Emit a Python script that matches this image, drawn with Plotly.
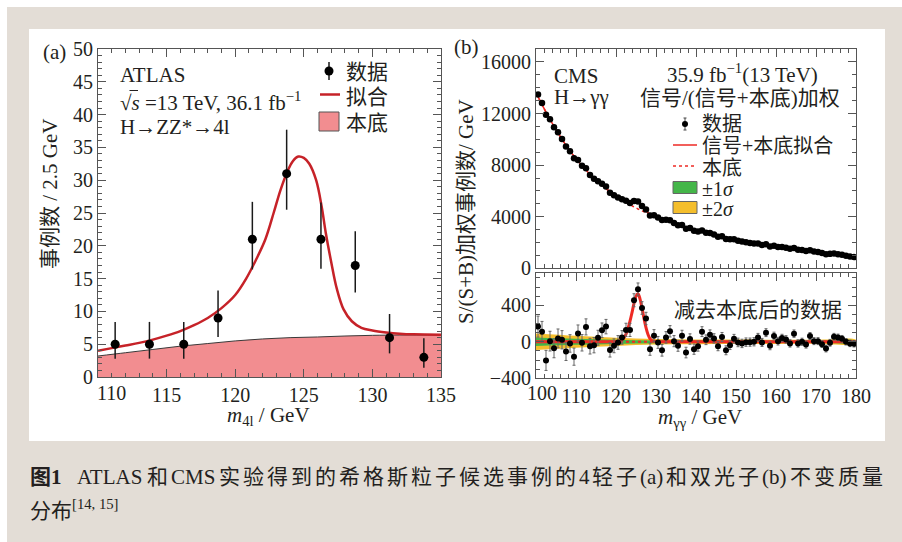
import plotly.graph_objects as go

# ---------------- data: panel (a) ATLAS H->ZZ*->4l ----------------
mass_a = [111.25, 113.75, 116.25, 118.75, 121.25, 123.75, 126.25, 128.75, 131.25, 133.75]
counts_a = [5, 5, 5, 9, 21, 31, 21, 17, 6, 3]
err_up_a = [3.4, 3.4, 3.4, 4.2, 5.7, 6.7, 5.6, 5.2, 3.6, 2.9]
err_dn_a = [2.2, 2.2, 2.2, 2.9, 4.6, 5.5, 4.5, 4.1, 2.4, 1.6]

fit_x_a = [110.0, 111.0, 112.0, 113.0, 114.0, 115.0, 116.0, 117.0, 118.0, 119.0, 120.0,
           120.8, 121.5, 122.2, 122.8, 123.3, 123.8, 124.2, 124.6, 125.0, 125.4, 125.9,
           126.3, 126.6, 127.0, 127.4, 127.9, 128.5, 129.2, 130.0, 131.0, 132.0, 133.0, 135.0]
fit_y_a = [4.0, 4.4, 4.8, 5.2, 5.7, 6.3, 7.0, 7.9, 9.0, 10.5, 12.5,
           15.0, 17.8, 21.0, 25.0, 28.5, 31.3, 32.9, 33.6, 33.4, 32.5, 30.0,
           26.0, 22.0, 17.5, 13.5, 10.3, 8.5, 7.5, 7.1, 6.8, 6.6, 6.5, 6.45]

bkg_x_a = [110, 112, 114, 116, 118, 120, 122, 124, 126, 128, 130, 132, 135]
bkg_y_a = [3.2, 3.7, 4.2, 4.7, 5.1, 5.5, 5.8, 6.0, 6.1, 6.25, 6.35, 6.4, 6.4]

xticks_a = [115, 120, 125, 130, 135]
yticks_a = [0, 5, 10, 15, 20, 25, 30, 35, 40, 45, 50]

# ---------------- data: panel (b) CMS H->gamma gamma ----------------
mass_b = [100.5, 101.5, 102.5, 103.5, 104.5, 105.5, 106.5, 107.5, 108.5, 109.5,
          110.5, 111.5, 112.5, 113.5, 114.5, 115.5, 116.5, 117.5, 118.5, 119.5,
          120.5, 121.5, 122.5, 123.5, 124.5, 125.5, 126.5, 127.5, 128.5, 129.5,
          130.5, 131.5, 132.5, 133.5, 134.5, 135.5, 136.5, 137.5, 138.5, 139.5,
          140.5, 141.5, 142.5, 143.5, 144.5, 145.5, 146.5, 147.5, 148.5, 149.5,
          150.5, 151.5, 152.5, 153.5, 154.5, 155.5, 156.5, 157.5, 158.5, 159.5,
          160.5, 161.5, 162.5, 163.5, 164.5, 165.5, 166.5, 167.5, 168.5, 169.5,
          170.5, 171.5, 172.5, 173.5, 174.5, 175.5, 176.5, 177.5, 178.5, 179.5]
weighted_b = [13470, 12810, 11900, 11560, 10930, 10540, 10020, 9440, 9080, 8540,
              8390, 7940, 7760, 7230, 6940, 6740, 6560, 6350, 5850, 5670,
              5490, 5350, 5240, 5060, 5215, 5174, 4820, 4565, 4100, 4117,
              3943, 3737, 3768, 3725, 3507, 3346, 3357, 3072, 3120, 2919,
              2862, 2931, 2762, 2738, 2617, 2452, 2482, 2267, 2253, 2253,
              2143, 2072, 2026, 1966, 1920, 1918, 1813, 1870, 1686, 1753,
              1657, 1651, 1596, 1512, 1579, 1432, 1410, 1340, 1393, 1297,
              1257, 1184, 1096, 1119, 1146, 1098, 1043, 970, 912, 868]
resid_b = [166, 111, -204, 7, -70, 37, 22, -107, -18, -163,
           92, -11, 163, -48, -37, 44, 126, 166, -89, -44,
           -7, 48, 130, 130, 455, 574, 370, 255, -81, 67,
           -7, -93, 48, 115, 7, -44, 67, -118, 30, -81,
           -48, 111, 22, 78, 37, -48, 52, -93, -37, 33,
           -7, -18, -4, -4, 0, 48, -7, 100, -44, 63,
           7, 41, 26, -18, 89, -18, 0, -30, 63, 7,
           7, -26, -74, -11, 56, 48, 33, 0, -18, -22]
resid_err_b = [115, 112, 110, 108, 105, 103, 100, 98, 96, 94,
               92, 90, 88, 86, 84, 82, 80, 79, 78, 76,
               75, 74, 73, 72, 71, 70, 69, 68, 67, 66,
               65, 64, 63, 62, 61, 60, 59, 58, 57, 56,
               55, 54, 53, 52, 51, 50, 50, 49, 48, 48,
               47, 46, 46, 45, 45, 44, 44, 43, 43, 42,
               42, 41, 41, 40, 40, 40, 39, 39, 38, 38,
               38, 37, 37, 37, 36, 36, 36, 35, 35, 35]

curve_x_b = [100, 102, 104, 106, 108, 110, 112, 114, 116, 118, 120, 121, 122, 122.5, 123,
             123.5, 124, 124.5, 125, 125.5, 126, 126.5, 127, 127.5, 128, 128.5, 129, 130,
             132, 135, 140, 145, 150, 155, 160, 165, 170, 175, 180]
bkg_curve_b = [13600, 12400, 11270, 10250, 9320, 8500, 7770, 7130, 6560, 6060, 5600, 5390,
               5200, 5110, 5020, 4930, 4840, 4760, 4680, 4600, 4520, 4450, 4380, 4310, 4240,
               4180, 4120, 4010, 3770, 3450, 2950, 2530, 2180, 1910, 1670, 1460, 1270, 1070, 870]
sig_curve_b = [0, 0, 0, 0, 0, 0, 0, 0, 0, 0, 2, 10, 45, 85, 145,
               225, 320, 420, 500, 525, 470, 370, 255, 155, 80, 35, 12, 2,
               0, 0, 0, 0, 0, 0, 0, 0, 0, 0, 0]
bkg_sub_b = [0 for _ in curve_x_b]

band_x_b = [100, 110, 120, 130, 140, 150, 160, 170, 180]
band1_b = [46, 33, 23, 15, 13, 12, 11, 11, 10]
band2_b = [90, 65, 45, 30, 26, 24, 23, 22, 21]

xticks_b = [110, 120, 130, 140, 150, 160, 170, 180]
yticks_b_top = [0, 4000, 8000, 12000, 16000]
yticks_b_bot = [-400, 0, 400]

# caption pieces (text, width in em used for justified placement)
caption_tokens = [("<b>图1</b>", 1.5), ("ATLAS", 3.222), ("和", 1), ("CMS", 2.112),
                  ("实", 1), ("验", 1), ("得", 1), ("到", 1), ("的", 1), ("希", 1), ("格", 1),
                  ("斯", 1), ("粒", 1), ("子", 1), ("候", 1), ("选", 1), ("事", 1), ("例", 1),
                  ("的", 1), ("4", 0.5), ("轻", 1), ("子", 1), ("(a)", 1.11), ("和", 1),
                  ("双", 1), ("光", 1), ("子", 1), ("(b)", 1.166), ("不", 1), ("变", 1),
                  ("质", 1), ("量", 1)]
caption_line2 = "分布<sup>[14, 15]</sup>"

# ---------------- style ----------------
W, H = 902, 542
SERIF = "Liberation Serif, Noto Sans CJK SC, serif"
TXT = "#231f20"
AX = "#555555"
RED_A = "#c62228"
RED_B = "#ee2a24"
PINK = "#f28d90"
GREEN = "#44b649"
YELLOW = "#f4be2c"
BEIGE = "#e3ddd6"


def px(x):
    return x / W


def py(y):
    return 1 - y / H


def axis(dom, rng, tickvals, minor, anchor, labels=True):
    return dict(domain=dom, range=rng, tickmode="array", tickvals=tickvals,
                ticktext=[str(v) for v in tickvals],
                ticks="inside", ticklen=8, tickwidth=1, tickcolor=AX,
                showline=True, linecolor=AX, linewidth=1, mirror="allticks",
                showgrid=False, zeroline=False, automargin=False,
                minor=dict(tickmode="linear", tick0=0, dtick=minor, ticks="inside",
                           ticklen=4, tickwidth=1, tickcolor=AX, showgrid=False),
                tickfont=dict(family=SERIF, size=20, color=TXT),
                showticklabels=labels, anchor=anchor, fixedrange=True)


fig = go.Figure()

# panel (a)
fig.add_trace(go.Scatter(x=bkg_x_a, y=bkg_y_a, mode="lines", fill="tozeroy",
                         fillcolor=PINK, line=dict(color="#3a3a3a", width=1, shape="spline"),
                         xaxis="x", yaxis="y", showlegend=False))
fig.add_trace(go.Scatter(x=fit_x_a, y=fit_y_a, mode="lines",
                         line=dict(color=RED_A, width=2.5, shape="spline"),
                         xaxis="x", yaxis="y", showlegend=False))
fig.add_trace(go.Scatter(x=mass_a, y=counts_a, mode="markers",
                         marker=dict(color="black", size=9),
                         error_y=dict(type="data", symmetric=False, array=err_up_a,
                                      arrayminus=err_dn_a, color="#1a1a1a",
                                      thickness=1.5, width=0),
                         xaxis="x", yaxis="y", showlegend=False))

# panel (b) top
fit_top_b = [b + s for b, s in zip(bkg_curve_b, sig_curve_b)]
fig.add_trace(go.Scatter(x=curve_x_b, y=bkg_curve_b, mode="lines",
                         line=dict(color=RED_B, width=1.5, dash="dot", shape="spline"),
                         xaxis="x2", yaxis="y2", showlegend=False))
fig.add_trace(go.Scatter(x=curve_x_b, y=fit_top_b, mode="lines",
                         line=dict(color=RED_B, width=1.5, shape="spline"),
                         xaxis="x2", yaxis="y2", showlegend=False))
fig.add_trace(go.Scatter(x=mass_b, y=weighted_b, mode="markers",
                         marker=dict(color="black", size=6.5),
                         xaxis="x2", yaxis="y2", showlegend=False))

# panel (b) bottom
fig.add_trace(go.Scatter(x=band_x_b + band_x_b[::-1],
                         y=band2_b + [-v for v in band2_b[::-1]],
                         fill="toself", fillcolor=YELLOW, line=dict(width=0, shape="spline"),
                         mode="lines", xaxis="x3", yaxis="y3", showlegend=False))
fig.add_trace(go.Scatter(x=band_x_b + band_x_b[::-1],
                         y=band1_b + [-v for v in band1_b[::-1]],
                         fill="toself", fillcolor=GREEN, line=dict(width=0, shape="spline"),
                         mode="lines", xaxis="x3", yaxis="y3", showlegend=False))
fig.add_trace(go.Scatter(x=curve_x_b, y=bkg_sub_b, mode="lines",
                         line=dict(color=RED_B, width=2, dash="dot"),
                         xaxis="x3", yaxis="y3", showlegend=False))
fig.add_trace(go.Scatter(x=curve_x_b, y=sig_curve_b, mode="lines",
                         line=dict(color=RED_B, width=3, shape="spline"),
                         xaxis="x3", yaxis="y3", showlegend=False))
fig.add_trace(go.Scatter(x=mass_b, y=resid_b, mode="markers",
                         marker=dict(color="black", size=6),
                         error_y=dict(type="data", array=resid_err_b, color="#666666",
                                      thickness=1, width=1.5),
                         xaxis="x3", yaxis="y3", showlegend=False))

# ---------------- layout ----------------
dom_ax = [px(98), px(441)]
dom_ay = [py(377), py(49)]
dom_bx = [px(536), px(856)]
dom_by_top = [py(268.3), py(49)]
dom_by_bot = [py(378.3), py(273.3)]

xa = axis(dom_ax, [110, 135], xticks_a, 1, "y")
ya = axis(dom_ay, [0, 50], yticks_a, 1, "x")
xb_top = axis(dom_bx, [100, 180], xticks_b, 2, "y2", labels=False)
yb_top = axis(dom_by_top, [0, 17000], yticks_b_top, 1000, "x2")
xb_bot = axis(dom_bx, [100, 180], xticks_b, 2, "y3")
yb_bot = axis(dom_by_bot, [-400, 750], yticks_b_bot, 100, "x3")
yb_bot["ticktext"] = ["−400", "0", "400"]

annotations = []


def txt(x, y, s, size=21, xanchor="left", yanchor="middle", angle=0):
    annotations.append(dict(x=px(x), y=py(y), xref="paper", yref="paper", text=s,
                            showarrow=False, xanchor=xanchor, yanchor=yanchor,
                            textangle=angle, borderpad=0,
                            font=dict(family=SERIF, size=size, color=TXT)))


# first x tick labels, shifted right as in the original
txt(111, 393, "110", size=20, xanchor="center")
txt(542, 393, "100", size=20, xanchor="center")

# panel (a) texts
txt(42, 52, "(a)")
txt(119, 75, "ATLAS")
txt(119, 101, "√<i>s</i> =13 TeV, 36.1 fb<sup>−1</sup>")
txt(119, 127, "H→ZZ*→4l")
txt(345, 72, "数据")
txt(345, 97, "拟合")
txt(345, 123, "本底")
txt(50, 194, "事例数 / 2.5 GeV", angle=-90, xanchor="center")
txt(268, 416, "<i>m</i><sub>4l</sub> / GeV", xanchor="center")

# panel (b) texts
txt(453, 47, "(b)")
txt(553, 76, "CMS")
txt(553, 97, "H→γγ")
txt(742, 73, "35.9 fb<sup>−1</sup>(13 TeV)", xanchor="center")
txt(740, 98, "信号/(信号+本底)加权", xanchor="center")
txt(701, 124, "数据", size=20)
txt(701, 146, "信号+本底拟合", size=20)
txt(701, 168, "本底", size=20)
txt(701, 189, "±1<i>σ</i>", size=20)
txt(701, 209, "±2<i>σ</i>", size=20)
txt(673, 310, "减去本底后的数据")
txt(466, 212, "S/(S+B)加权事例数/ GeV", angle=-90, xanchor="center")
txt(700, 418, "<i>m</i><sub>γγ</sub> / GeV", xanchor="center")

# caption: first line justified between x=29 and x=882
CAP = 21
cap_left, cap_right, cap_gap0 = 29.0, 882.0, 12.0
natural = sum(w for _, w in caption_tokens) * CAP
extra = (cap_right - cap_left - natural - cap_gap0) / (len(caption_tokens) - 1)
xpos = cap_left
for i, (tok, wem) in enumerate(caption_tokens):
    txt(xpos, 477, tok, size=CAP)
    xpos += wem * CAP + extra + (cap_gap0 if i == 0 else 0)
txt(cap_left, 509, caption_line2, size=CAP)

shapes = [
    dict(type="rect", xref="paper", yref="paper", x0=px(7), x1=1, y0=0, y1=py(7),
         fillcolor=BEIGE, line=dict(width=0), layer="below"),
    dict(type="rect", xref="paper", yref="paper", x0=px(29), x1=px(885), y0=py(441), y1=py(29),
         fillcolor="white", line=dict(width=0), layer="below"),
    # legend (a)
    dict(type="line", xref="paper", yref="paper", x0=px(329), x1=px(329), y0=py(62), y1=py(80),
         line=dict(color="#1a1a1a", width=1.5)),
    dict(type="circle", xref="paper", yref="paper", x0=px(324.5), x1=px(333.5), y0=py(75.5), y1=py(66.5),
         fillcolor="black", line=dict(color="black", width=0)),
    dict(type="line", xref="paper", yref="paper", x0=px(320), x1=px(340), y0=py(94.5), y1=py(94.5),
         line=dict(color=RED_A, width=2.5)),
    dict(type="rect", xref="paper", yref="paper", x0=px(319), x1=px(339), y0=py(131), y1=py(112),
         fillcolor=PINK, line=dict(color="#555555", width=1)),
    # sqrt overline (a)
    dict(type="line", xref="paper", yref="paper", x0=px(129.5), x1=px(138), y0=py(90.5), y1=py(90.5),
         line=dict(color=TXT, width=1)),
    # legend (b)
    dict(type="line", xref="paper", yref="paper", x0=px(685), x1=px(685), y0=py(118), y1=py(130),
         line=dict(color="#444", width=1)),
    dict(type="line", xref="paper", yref="paper", x0=px(683.5), x1=px(686.5), y0=py(118), y1=py(118),
         line=dict(color="#444", width=1)),
    dict(type="line", xref="paper", yref="paper", x0=px(683.5), x1=px(686.5), y0=py(130), y1=py(130),
         line=dict(color="#444", width=1)),
    dict(type="circle", xref="paper", yref="paper", x0=px(682), x1=px(688), y0=py(127), y1=py(121),
         fillcolor="black", line=dict(width=0)),
    dict(type="line", xref="paper", yref="paper", x0=px(673), x1=px(697), y0=py(145), y1=py(145),
         line=dict(color=RED_B, width=1.5)),
    dict(type="line", xref="paper", yref="paper", x0=px(673), x1=px(697), y0=py(166), y1=py(166),
         line=dict(color=RED_B, width=1.5, dash="dot")),
    dict(type="rect", xref="paper", yref="paper", x0=px(673), x1=px(697), y0=py(193.5), y1=py(181.5),
         fillcolor=GREEN, line=dict(color="#666", width=1)),
    dict(type="rect", xref="paper", yref="paper", x0=px(673), x1=px(697), y0=py(213.5), y1=py(201.5),
         fillcolor=YELLOW, line=dict(color="#666", width=1)),
]

fig.update_layout(
    width=W, height=H, autosize=False,
    margin=dict(l=0, r=0, t=0, b=0, pad=0, autoexpand=False),
    paper_bgcolor="white", plot_bgcolor="rgba(0,0,0,0)",
    showlegend=False,
    xaxis=xa, yaxis=ya,
    xaxis2=xb_top, yaxis2=yb_top,
    xaxis3=xb_bot, yaxis3=yb_bot,
    annotations=annotations, shapes=shapes,
    font=dict(family=SERIF, color=TXT),
)

fig.write_html("out.html")
